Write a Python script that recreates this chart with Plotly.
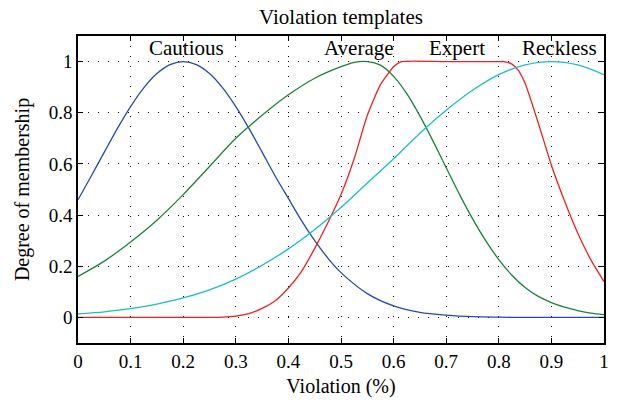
import plotly.graph_objects as go

# --- data ---
x_caut = [0.0, 0.025, 0.05, 0.075, 0.1, 0.125, 0.15, 0.175, 0.2, 0.225, 0.25, 0.275,
          0.3, 0.325, 0.35, 0.375, 0.4, 0.425, 0.45, 0.475, 0.5, 0.55, 0.6, 0.65,
          0.7, 0.75, 0.8, 0.85, 0.9, 0.95, 1.0]
cautious = [0.46, 0.552, 0.646, 0.739, 0.824, 0.897, 0.953, 0.988, 1.0, 0.988, 0.953, 0.897,
            0.824, 0.739, 0.646, 0.552, 0.465, 0.378, 0.30, 0.232, 0.175, 0.093, 0.045, 0.020,
            0.009, 0.003, 0.001, 0.0, 0.0, 0.0, 0.0]

x_avg = [0.0, 0.05, 0.1, 0.15, 0.2, 0.25, 0.3, 0.35, 0.4, 0.45, 0.5, 0.525, 0.55,
         0.575, 0.6, 0.625, 0.65, 0.675, 0.7, 0.725, 0.75, 0.775, 0.8, 0.825, 0.85,
         0.875, 0.9, 0.925, 0.95, 0.975, 1.0]
average = [0.16, 0.22, 0.295, 0.38, 0.48, 0.59, 0.70, 0.79, 0.87, 0.935, 0.98, 0.997, 1.0,
           0.986, 0.942, 0.875, 0.788, 0.689, 0.585, 0.482, 0.386, 0.30, 0.226, 0.165, 0.117,
           0.082, 0.058, 0.04, 0.027, 0.017, 0.011]

x_exp = [0.0, 0.1, 0.2, 0.25, 0.275, 0.3, 0.325, 0.35, 0.375, 0.4, 0.425, 0.45,
         0.475, 0.5, 0.525, 0.55, 0.575, 0.6, 0.615, 0.7, 0.8, 0.81, 0.825, 0.8375,
         0.85, 0.8625, 0.875, 0.9, 0.925, 0.95, 0.975, 1.0]
expert = [0.0, 0.0, 0.0, 0.0, 0.001, 0.005, 0.015, 0.035, 0.065, 0.115, 0.18, 0.27,
          0.37, 0.48, 0.62, 0.79, 0.91, 0.98, 1.0, 1.0, 1.0, 1.0, 0.99, 0.965,
          0.915, 0.84, 0.76, 0.595, 0.455, 0.33, 0.225, 0.14]

x_reck = [0.0, 0.05, 0.1, 0.15, 0.2, 0.25, 0.3, 0.35, 0.4, 0.45, 0.5,
          0.55, 0.6, 0.65, 0.7, 0.75, 0.8, 0.85, 0.9, 0.95, 1.0]
reckless = [0.014, 0.022, 0.034, 0.052, 0.076, 0.108, 0.150, 0.204, 0.268, 0.344, 0.43,
            0.525, 0.62, 0.72, 0.81, 0.888, 0.949, 0.987, 1.0, 0.987, 0.949]

labels = ["Cautious", "Average", "Expert", "Reckless"]
label_x = [0.207, 0.535, 0.72, 0.915]
label_y = [1.055, 1.055, 1.055, 1.055]

x_ticks = [0, 0.1, 0.2, 0.3, 0.4, 0.5, 0.6, 0.7, 0.8, 0.9, 1]
x_ticktext = ["0", "0.1", "0.2", "0.3", "0.4", "0.5", "0.6", "0.7", "0.8", "0.9", "1"]
y_ticks = [0, 0.2, 0.4, 0.6, 0.8, 1]
y_ticktext = ["0", "0.2", "0.4", "0.6", "0.8", "1"]

FONT = "Liberation Serif"

fig = go.Figure()
fig.add_trace(go.Scatter(x=x_caut, y=cautious, mode="lines",
                         line=dict(color="#2a4aa8", width=1.3, shape="spline", smoothing=0.8)))
fig.add_trace(go.Scatter(x=x_avg, y=average, mode="lines",
                         line=dict(color="#1e8040", width=1.3, shape="spline", smoothing=0.8)))
fig.add_trace(go.Scatter(x=x_exp, y=expert, mode="lines",
                         line=dict(color="#f02020", width=1.3, shape="spline", smoothing=0.5)))
fig.add_trace(go.Scatter(x=x_reck, y=reckless, mode="lines",
                         line=dict(color="#1bbfc0", width=1.3, shape="spline", smoothing=0.8)))

for t, lx, ly in zip(labels, label_x, label_y):
    fig.add_annotation(x=lx, y=ly, text=t, showarrow=False,
                       font=dict(family=FONT, size=21, color="black"))

axis_common = dict(showline=True, linecolor="black", linewidth=1.5, mirror="ticks",
                   ticks="inside", ticklen=5, tickcolor="black", tickwidth=1,
                   showgrid=True, gridcolor="black", gridwidth=1, griddash="1px,9px",
                   zeroline=False, tickfont=dict(family=FONT, size=19, color="black"))

fig.update_xaxes(range=[0, 1], tickvals=x_ticks, ticktext=x_ticktext,
                 title=dict(text="Violation (%)", font=dict(family=FONT, size=20, color="black"),
                            standoff=8),
                 **axis_common)
fig.update_yaxes(range=[-0.1, 1.1], tickvals=y_ticks, ticktext=y_ticktext,
                 title=dict(text="Degree of membership", font=dict(family=FONT, size=20, color="black"),
                            standoff=14),
                 **axis_common)

fig.update_layout(
    width=618, height=406,
    margin=dict(l=78, r=9, t=36, b=63),
    paper_bgcolor="white", plot_bgcolor="white",
    showlegend=False,
    title=dict(text="Violation templates", x=0.5, xref="paper", xanchor="center",
               y=1 - 17 / 406, yref="container", yanchor="middle",
               font=dict(family=FONT, size=21, color="black")),
)

fig.write_html("out.html", config={"displayModeBar": False})

# remove the default page margin so the figure fills the window exactly
with open("out.html", "r", encoding="utf-8") as f:
    html = f.read()
html = html.replace("<head>", "<head><style>html,body{margin:0;padding:0;overflow:hidden;}</style>", 1)
with open("out.html", "w", encoding="utf-8") as f:
    f.write(html)
